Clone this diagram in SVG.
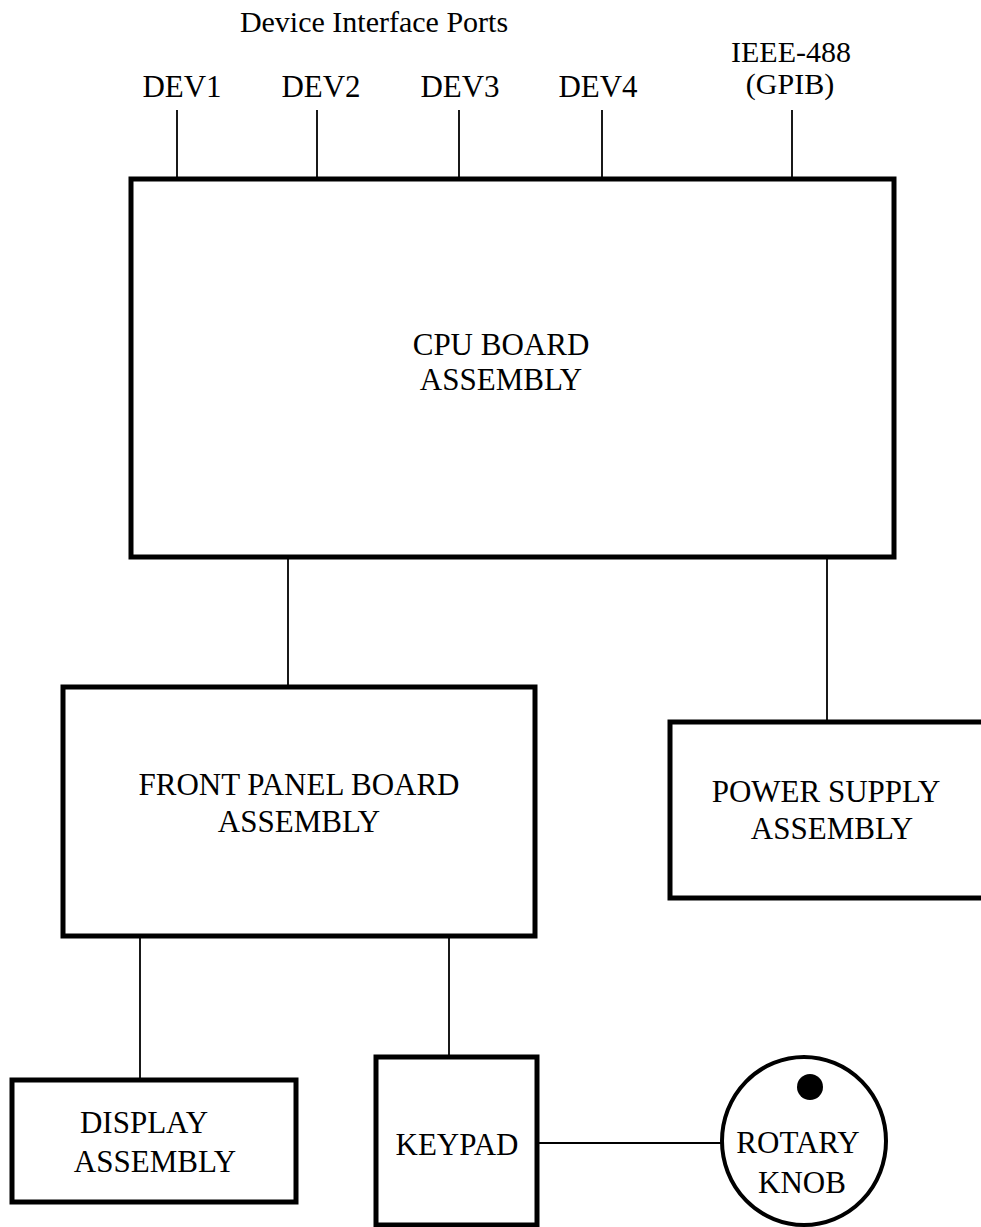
<svg xmlns="http://www.w3.org/2000/svg" width="981" height="1227" viewBox="0 0 981 1227">
<style>
.box{fill:none;stroke:#000;stroke-width:5}
.ln{stroke:#000;stroke-width:1.8;fill:none}
text{font-family:"Liberation Serif","Times New Roman",serif;font-size:31px;fill:#000;text-anchor:middle}
.sm{font-size:30px}
</style>
<rect width="981" height="1227" fill="#fff"/>
<g id="connectors">
<line class="ln" x1="177" y1="110" x2="177" y2="179"/>
<line class="ln" x1="317" y1="110" x2="317" y2="179"/>
<line class="ln" x1="459" y1="110" x2="459" y2="179"/>
<line class="ln" x1="602" y1="110" x2="602" y2="179"/>
<line class="ln" x1="792" y1="110" x2="792" y2="179"/>
<line class="ln" x1="288" y1="557" x2="288" y2="687"/>
<line class="ln" x1="827" y1="557" x2="827" y2="722"/>
<line class="ln" x1="140" y1="936" x2="140" y2="1080"/>
<line class="ln" x1="449" y1="936" x2="449" y2="1057"/>
<line class="ln" x1="537" y1="1143" x2="722" y2="1143"/>
</g>
<g id="ports">
<text class="sm" x="374" y="32">Device Interface Ports</text>
<text x="182" y="97">DEV1</text>
<text x="321" y="97">DEV2</text>
<text x="460" y="97">DEV3</text>
<text x="598" y="97">DEV4</text>
<text x="791" y="62" class="sm">IEEE-488</text>
<text x="790" y="94" class="sm">(GPIB)</text>
</g>
<g id="cpu">
<rect class="box" x="131" y="179" width="763" height="378"/>
<text x="501" y="355">CPU BOARD</text>
<text x="501" y="390">ASSEMBLY</text>
</g>
<g id="frontpanel">
<rect class="box" x="63" y="687" width="472" height="249"/>
<text x="299" y="795">FRONT PANEL BOARD</text>
<text x="299" y="832">ASSEMBLY</text>
</g>
<g id="power">
<rect class="box" x="670" y="722" width="320" height="176"/>
<text x="826" y="802">POWER SUPPLY</text>
<text x="832" y="839">ASSEMBLY</text>
</g>
<g id="display">
<rect class="box" x="12" y="1080" width="284" height="122"/>
<text x="144" y="1133">DISPLAY</text>
<text x="155" y="1172">ASSEMBLY</text>
</g>
<g id="keypad">
<rect class="box" x="376" y="1057" width="161" height="168"/>
<text x="457" y="1155">KEYPAD</text>
</g>
<g id="knob">
<ellipse cx="804" cy="1141" rx="82" ry="84" fill="none" stroke="#000" stroke-width="4"/>
<circle cx="810" cy="1087" r="13" fill="#000"/>
<text x="798" y="1153">ROTARY</text>
<text x="802" y="1193">KNOB</text>
</g>
</svg>
